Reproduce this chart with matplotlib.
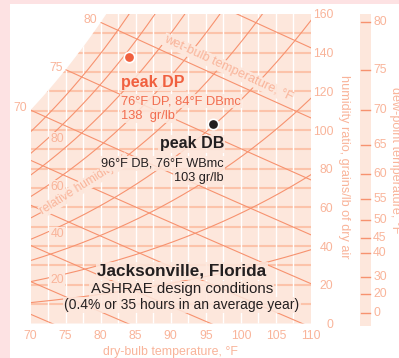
import numpy as np
import matplotlib
matplotlib.use("Agg")
import matplotlib.pyplot as plt
from matplotlib.patches import Polygon, Rectangle

plt.rcParams['font.family'] = ['Liberation Sans', 'DejaVu Sans']

# ---- chart values -------------------------------------------------------
db_ticks = [70, 75, 80, 85, 90, 95, 100, 105, 110]          # dry-bulb, F
w_ticks = [0, 20, 40, 60, 80, 100, 120, 140, 160]           # grains/lb
w_grid = [10, 20, 30, 40, 50, 60, 70, 80, 90, 100, 110, 120, 130, 140, 150]
db_grid = [72.5, 75, 77.5, 80, 82.5, 85, 87.5, 90, 92.5, 95, 97.5,
           100, 102.5, 105, 107.5]
rh_levels = [10, 20, 30, 40, 50, 60, 70, 80, 90]            # %
rh_labels = [20, 40, 60, 80]
wb_levels = [45, 50, 55, 60, 65, 70, 75, 80, 85]            # wet-bulb, F
wb_labels = [70, 75, 80]
dp_ticks = [0, 20, 30, 40, 45, 50, 55, 60, 65, 70, 75, 80]  # dew point, F

peak_dp_db, peak_dp_dp, peak_dp_w = 84, 76, 138
peak_db_db, peak_db_wb, peak_db_w = 96, 76, 103

# ---- colours ------------------------------------------------------------
PINK = '#fde2e3'
FILL = '#fde7dc'
HLINE = '#fcc3aa'
LINE = '#f7926f'
SALMON = '#f9b49a'
DP_RED = '#f0603f'
DP_TEXT = '#f26d4f'
INK = '#231f20'

P_ATM = 14.696


def p_ws(t_f):
    """Saturation vapour pressure (psia), ASHRAE correlation."""
    t_f = np.asarray(t_f, float)
    T = t_f + 459.67
    lw = (-1.0440397e4 / T - 1.1294650e1 - 2.7022355e-2 * T
          + 1.2890360e-5 * T**2 - 2.4780681e-9 * T**3 + 6.5459673 * np.log(T))
    li = (-1.0214165e4 / T - 4.8932428 - 5.3765794e-3 * T
          + 1.9202377e-7 * T**2 + 3.5575832e-10 * T**3
          - 9.0344688e-14 * T**4 + 4.1635019 * np.log(T))
    return np.exp(np.where(t_f < 32, li, lw))


def w_gr(t, rh=1.0):
    pv = rh * p_ws(t)
    return 7000 * 0.621945 * pv / (P_ATM - pv)


def w_wb(t, twb):
    ws = w_gr(twb) / 7000
    return 7000 * ((1093 - 0.556 * twb) * ws - 0.240 * (t - twb)) / \
        (1093 + 0.444 * t - twb)


W = 399 / 100
H = 358 / 100
fig = plt.figure(figsize=(W, H), dpi=100, facecolor=PINK)
fig.patches.append(Rectangle((10 / 399, 0), 389 / 399, 354 / 358,
                             transform=fig.transFigure, facecolor='white',
                             edgecolor='none', zorder=-10))

left, right = 30.5 / 399, 311 / 399
bottom, top = (358 - 323.5) / 358, (358 - 14) / 358
ax = fig.add_axes([left, bottom, right - left, top - bottom])
ax.set_xlim(70, 110)
ax.set_ylim(0, 160)
ax.set_facecolor('none')
for s in ax.spines.values():
    s.set_visible(False)

# saturated region outline
t_fine = np.linspace(70, 110, 2001)
w_sat = w_gr(t_fine)
t_top = np.interp(160, w_sat, t_fine)
t_sat = np.linspace(70, t_top, 200)
verts = [(70, 0)] + list(zip(t_sat, w_gr(t_sat))) + [(t_top, 160), (110, 160), (110, 0)]
region = Polygon(verts, closed=True, facecolor=FILL, edgecolor='none', zorder=0)
ax.add_patch(region)

# humidity-ratio lines
for w in w_grid:
    ln, = ax.plot([70, 110], [w, w], color=HLINE, lw=1.5, zorder=1,
                  solid_capstyle='butt')
    ln.set_clip_path(region)

# dry-bulb grid
for t in db_grid:
    ln, = ax.plot([t, t], [0, 160], color='white', lw=1.0, zorder=2)
    ln.set_clip_path(region)

# relative humidity curves
for rh in rh_levels:
    ln, = ax.plot(t_fine, w_gr(t_fine, rh / 100), color=LINE, lw=0.8, zorder=3)
    ln.set_clip_path(region)

# wet-bulb lines
for twb in wb_levels:
    tt = np.linspace(twb, 110, 400)
    ln, = ax.plot(tt, w_wb(tt, twb), color=LINE, lw=0.8, zorder=3)
    ln.set_clip_path(region)

# wet-bulb scale on the saturation curve
for twb in wb_labels:
    ax.annotate(str(twb), (twb, w_gr(twb)), xytext=(-3, 2),
                textcoords='offset pixels', ha='right', va='center',
                fontsize=8.8, color=SALMON, annotation_clip=False)

lbl_box = dict(facecolor=FILL, edgecolor='none', pad=1.0)
rh_label_w = {80: 95.3, 60: 70.5, 40: 46.2, 20: 22.5}
for rh in rh_labels:
    ax.text(73.8, rh_label_w[rh], str(rh), ha='center', va='center',
            fontsize=8.8, color=SALMON, bbox=lbl_box, zorder=4.5)

ax.text(77.7, 71.5, 'relative humidity, %', rotation=32, rotation_mode='anchor',
        ha='center', va='center', fontsize=8.6, color=SALMON, zorder=4,
        bbox=dict(facecolor=FILL, edgecolor='none', pad=0.4))
ax.text(98.16, 131.8, 'wet-bulb temperature, \u00b0F', rotation=-25,
        rotation_mode='anchor', ha='center', va='center', fontsize=9.2,
        color=SALMON, zorder=4,
        bbox=dict(facecolor=FILL, edgecolor='none', pad=0.5))

# design points
ax.plot(peak_dp_db, peak_dp_w, 'o', ms=7.5, color=DP_RED, mec='white',
        mew=1.2, zorder=6, clip_on=False)
ax.plot(peak_db_db, peak_db_w, 'o', ms=7.5, color=INK, mec='white',
        mew=1.2, zorder=6, clip_on=False)

tbox = dict(facecolor=FILL, edgecolor='none', pad=1.0, alpha=0.85)
ax.text(82.9, 124.8, 'peak DP', fontsize=11.5, fontweight='bold',
        color=DP_RED, ha='left', va='center', zorder=5, bbox=tbox)
ax.text(82.9, 115.0, '76\u00b0F DP, 84\u00b0F DBmc', fontsize=9.3,
        color=DP_TEXT, ha='left', va='center', zorder=5, bbox=tbox)
ax.text(82.9, 107.5, f'{peak_dp_w}  gr/lb', fontsize=9.3,
        color=DP_TEXT, ha='left', va='center', zorder=5, bbox=tbox)

ax.text(97.6, 92.8, 'peak DB', fontsize=11.5, fontweight='bold',
        color=INK, ha='right', va='center', zorder=5, bbox=tbox)
ax.text(97.6, 82.9, '96\u00b0F DB, 76\u00b0F WBmc', fontsize=9.2,
        color=INK, ha='right', va='center', zorder=5, bbox=tbox)
ax.text(97.6, 75.2, f'{peak_db_w} gr/lb', fontsize=9.2,
        color=INK, ha='right', va='center', zorder=5, bbox=tbox)

ax.text(91.6, 27.1, 'Jacksonville, Florida', fontsize=12.3, fontweight='bold',
        color=INK, ha='center', va='center', zorder=5, bbox=tbox)
ax.text(91.6, 17.8, 'ASHRAE design conditions', fontsize=10.8,
        color=INK, ha='center', va='center', zorder=5, bbox=tbox)
ax.text(91.6, 9.6, '(0.4% or 35 hours in an average year)', fontsize=10.0,
        color=INK, ha='center', va='center', zorder=5, bbox=tbox)

# axes ticks and labels
ax.set_xticks(db_ticks)
ax.set_xticklabels([str(v) for v in db_ticks])
ax.tick_params(axis='x', length=0, pad=5, labelsize=8.8, labelcolor=SALMON)
ax.set_xlabel('dry-bulb temperature, \u00b0F', fontsize=8.9, color=SALMON,
              labelpad=2.5)

ax.yaxis.tick_right()
ax.set_yticks(w_ticks)
ax.set_yticklabels([str(v) for v in w_ticks])
ax.tick_params(axis='y', length=0, pad=16, labelsize=8.8, labelcolor=SALMON)
for lab in ax.get_yticklabels():
    lab.set_horizontalalignment('right')

fig.text(344 / 399, 1 - 167 / 358, 'humidity ratio, grains/lb of dry air',
         rotation=-90, ha='center', va='center', fontsize=9.1, color=SALMON)

# dew-point scale
axd = fig.add_axes([360 / 399, bottom, 11 / 399, top - bottom])
axd.set_xlim(0, 1)
axd.set_ylim(0, 160)
axd.axis('off')
axd.add_patch(Rectangle((0, -1.3), 1, 161.3, facecolor=FILL, edgecolor='none',
                        clip_on=False))
for dp in dp_ticks:
    wd = float(w_gr(dp))
    axd.plot([0.05, 0.95], [wd, wd], color=LINE, lw=1.0, clip_on=False)
    axd.text(1.2, wd, str(dp), ha='left', va='center', fontsize=8.8,
             color=SALMON, clip_on=False)

fig.text(395 / 399, 1 - 160 / 358, 'dew-point temperature, \u00b0F',
         rotation=-90, ha='center', va='center', fontsize=9.1, color=SALMON)

fig.savefig('out.png', dpi=100, facecolor=PINK)
